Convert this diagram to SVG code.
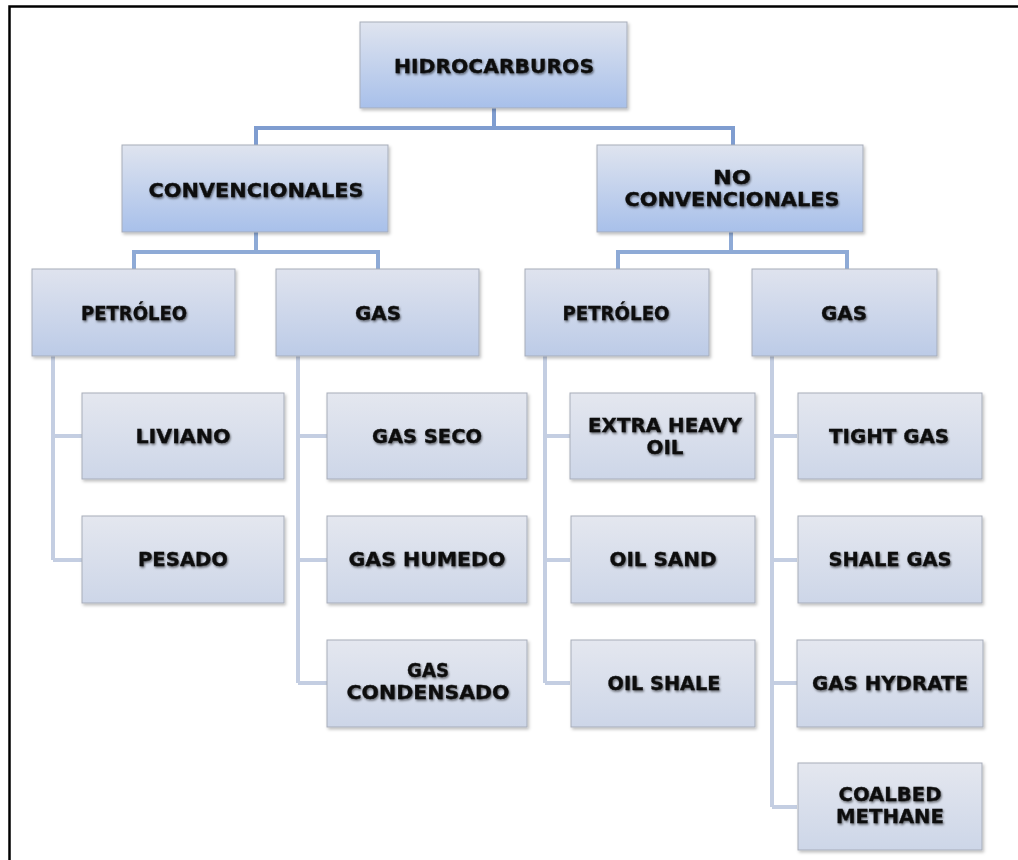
<svg xmlns="http://www.w3.org/2000/svg" width="1018" height="860" viewBox="0 0 1018 860">
<defs>
<linearGradient id="g1" x1="0" y1="0" x2="0" y2="1"><stop offset="0" stop-color="#dfe4ef"/><stop offset="1" stop-color="#a8c0ea"/></linearGradient>
<linearGradient id="g2" x1="0" y1="0" x2="0" y2="1"><stop offset="0" stop-color="#dfe3ee"/><stop offset="1" stop-color="#bccbe7"/></linearGradient>
<linearGradient id="g3" x1="0" y1="0" x2="0" y2="1"><stop offset="0" stop-color="#e4e7ef"/><stop offset="1" stop-color="#cdd6e8"/></linearGradient>
<filter id="bs" x="-5%" y="-5%" width="112%" height="115%"><feDropShadow dx="1.5" dy="2" stdDeviation="1.5" flood-color="#000" flood-opacity="0.25"/></filter>
<filter id="ts" x="-5%" y="-30%" width="110%" height="160%"><feDropShadow dx="1" dy="1.5" stdDeviation="1.3" flood-color="#000" flood-opacity="0.55"/></filter>
</defs>
<style>
.b{stroke:#a7adba;stroke-width:1}
.l1{fill:url(#g1)}
.l2{fill:url(#g2)}
.l3{fill:url(#g3)}
.t{font-family:"DejaVu Sans","Liberation Sans",sans-serif;font-weight:bold;font-size:20px;fill:#0d0d0d;stroke:#0d0d0d;stroke-width:0.3;text-anchor:middle;filter:url(#ts)}
.c1{fill:none;stroke:#7f9dd0;stroke-width:4}
.c2{fill:none;stroke:#8eaad6;stroke-width:4}
.c3{fill:none;stroke:#c4cee2;stroke-width:4}
</style>
<rect width="1018" height="860" fill="#fff"/>
<path d="M9.5,860 V6.5 H1018" fill="none" stroke="#000" stroke-width="2.5"/>
<g id="connectors">
<path class="c1" d="M494,108 V128 M256,145 V128 H733 V145"/>
<path class="c2" d="M256,232 V252 M134,269 V252 H378 V269"/>
<path class="c2" d="M731,232 V252 M618,269 V252 H847 V269"/>
<path class="c3" d="M53,356 V560 M53,436 H82 M53,560 H82"/>
<path class="c3" d="M298,356 V683 M298,436 H327 M298,560 H327 M298,683 H327"/>
<path class="c3" d="M545,356 V683 M545,436 H570 M545,560 H570 M545,683 H570"/>
<path class="c3" d="M772,356 V807 M772,436 H797 M772,560 H797 M772,683 H797 M772,807 H797"/>
</g>
<g id="n-hidrocarburos"><rect class="b l1" filter="url(#bs)" x="360" y="22" width="267" height="86"/><text class="t" x="494" y="73" textLength="200" lengthAdjust="spacingAndGlyphs">HIDROCARBUROS</text></g>
<g id="n-convencionales"><rect class="b l1" filter="url(#bs)" x="122" y="145" width="266" height="87"/><text class="t" x="256" y="197" textLength="215" lengthAdjust="spacingAndGlyphs">CONVENCIONALES</text></g>
<g id="n-noconvencionales"><rect class="b l1" filter="url(#bs)" x="597" y="145" width="266" height="87"/><text class="t" x="732" y="184" textLength="38" lengthAdjust="spacingAndGlyphs">NO</text><text class="t" x="732" y="206" textLength="215" lengthAdjust="spacingAndGlyphs">CONVENCIONALES</text></g>
<g id="n-petroleo-c"><rect class="b l2" filter="url(#bs)" x="32" y="269" width="203" height="87"/><text class="t" x="134" y="320" textLength="106" lengthAdjust="spacingAndGlyphs">PETRÓLEO</text></g>
<g id="n-gas-c"><rect class="b l2" filter="url(#bs)" x="276" y="269" width="203" height="87"/><text class="t" x="378" y="320" textLength="46" lengthAdjust="spacingAndGlyphs">GAS</text></g>
<g id="n-petroleo-nc"><rect class="b l2" filter="url(#bs)" x="525" y="269" width="184" height="87"/><text class="t" x="616" y="320" textLength="107" lengthAdjust="spacingAndGlyphs">PETRÓLEO</text></g>
<g id="n-gas-nc"><rect class="b l2" filter="url(#bs)" x="752" y="269" width="185" height="87"/><text class="t" x="844" y="320" textLength="46" lengthAdjust="spacingAndGlyphs">GAS</text></g>
<g id="n-liviano"><rect class="b l3" filter="url(#bs)" x="82" y="393" width="202" height="86"/><text class="t" x="183" y="443" textLength="95" lengthAdjust="spacingAndGlyphs">LIVIANO</text></g>
<g id="n-pesado"><rect class="b l3" filter="url(#bs)" x="82" y="516" width="202" height="87"/><text class="t" x="183" y="566" textLength="90" lengthAdjust="spacingAndGlyphs">PESADO</text></g>
<g id="n-gasseco"><rect class="b l3" filter="url(#bs)" x="327" y="393" width="200" height="86"/><text class="t" x="427" y="443" textLength="110" lengthAdjust="spacingAndGlyphs">GAS SECO</text></g>
<g id="n-gashumedo"><rect class="b l3" filter="url(#bs)" x="327" y="516" width="200" height="87"/><text class="t" x="427" y="566" textLength="157" lengthAdjust="spacingAndGlyphs">GAS HUMEDO</text></g>
<g id="n-gascondensado"><rect class="b l3" filter="url(#bs)" x="327" y="640" width="200" height="87"/><text class="t" x="428" y="677" textLength="42" lengthAdjust="spacingAndGlyphs">GAS</text><text class="t" x="428" y="699" textLength="163" lengthAdjust="spacingAndGlyphs">CONDENSADO</text></g>
<g id="n-extraheavy"><rect class="b l3" filter="url(#bs)" x="570" y="393" width="185" height="86"/><text class="t" x="665" y="432" textLength="154" lengthAdjust="spacingAndGlyphs">EXTRA HEAVY</text><text class="t" x="665" y="454" textLength="37" lengthAdjust="spacingAndGlyphs">OIL</text></g>
<g id="n-oilsand"><rect class="b l3" filter="url(#bs)" x="571" y="516" width="184" height="87"/><text class="t" x="663" y="566" textLength="107" lengthAdjust="spacingAndGlyphs">OIL SAND</text></g>
<g id="n-oilshale"><rect class="b l3" filter="url(#bs)" x="571" y="640" width="184" height="87"/><text class="t" x="664" y="690" textLength="113" lengthAdjust="spacingAndGlyphs">OIL SHALE</text></g>
<g id="n-tightgas"><rect class="b l3" filter="url(#bs)" x="798" y="393" width="184" height="86"/><text class="t" x="889" y="443" textLength="120" lengthAdjust="spacingAndGlyphs">TIGHT GAS</text></g>
<g id="n-shalegas"><rect class="b l3" filter="url(#bs)" x="798" y="516" width="184" height="87"/><text class="t" x="890" y="566" textLength="123" lengthAdjust="spacingAndGlyphs">SHALE GAS</text></g>
<g id="n-gashydrate"><rect class="b l3" filter="url(#bs)" x="797" y="640" width="186" height="87"/><text class="t" x="890" y="690" textLength="156" lengthAdjust="spacingAndGlyphs">GAS HYDRATE</text></g>
<g id="n-coalbed"><rect class="b l3" filter="url(#bs)" x="798" y="763" width="184" height="87"/><text class="t" x="890" y="801" textLength="103" lengthAdjust="spacingAndGlyphs">COALBED</text><text class="t" x="890" y="823" textLength="108" lengthAdjust="spacingAndGlyphs">METHANE</text></g>
</svg>
